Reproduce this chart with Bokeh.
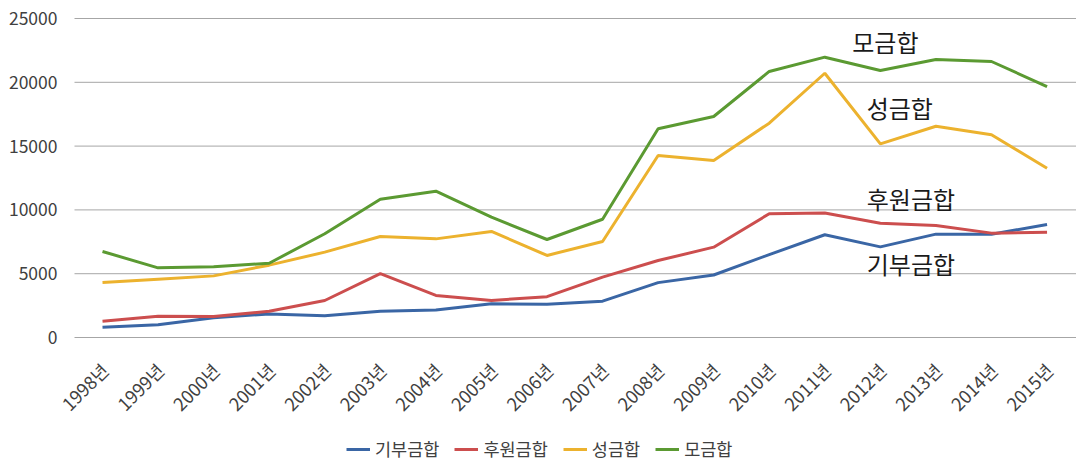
import math
from bokeh.plotting import figure
from bokeh.models import Range1d, Legend, LegendItem, Label, ColumnDataSource
from bokeh.core.properties import value
from bokeh.embed import file_html
from bokeh.resources import INLINE

years = ["1998년", "1999년", "2000년", "2001년", "2002년", "2003년", "2004년", "2005년", "2006년",
         "2007년", "2008년", "2009년", "2010년", "2011년", "2012년", "2013년", "2014년", "2015년"]
donation = [800, 1000, 1550, 1850, 1700, 2050, 2150, 2640, 2600, 2850, 4300, 4900, 6500, 8050, 7100, 8100, 8100, 8850]
sponsor = [1280, 1670, 1650, 2060, 2900, 5000, 3300, 2900, 3200, 4730, 6030, 7080, 9700, 9750, 8950, 8780, 8180, 8250]
relief = [4310, 4570, 4830, 5670, 6690, 7920, 7730, 8310, 6430, 7520, 14260, 13870, 16800, 20710, 15180, 16560, 15890, 13270]
fundraise = [6740, 5460, 5540, 5820, 8130, 10840, 11470, 9430, 7680, 9270, 16360, 17320, 20850, 21970, 20920, 21790, 21630, 19670]
series_names = ["기부금합", "후원금합", "성금합", "모금합"]
y_ticks = [0, 5000, 10000, 15000, 20000, 25000]
y_tick_labels = ["0", "5000", "10000", "15000", "20000", "25000"]

FONT = "Noto Sans CJK KR"
colors = ["#3a66a5", "#cc4e4e", "#ecb22e", "#5b9a32"]

xs = list(range(len(years)))

# The frame covers the whole canvas so that no text is clipped; the plotting
# area proper runs from x = PLOT_X0 to the right edge and from 0 to 25000.
PLOT_X0 = -0.504
PLOT_X1 = 17.53

p = figure(width=1076, height=462, output_backend="svg", toolbar_location=None,
           x_range=Range1d(-1.836, PLOT_X1), y_range=Range1d(-9796, 26411),
           min_border_left=0, min_border_right=0, min_border_top=0, min_border_bottom=0)
p.outline_line_color = None
p.background_fill_color = "white"
p.border_fill_color = "white"
p.xaxis.visible = False
p.yaxis.visible = False
p.xgrid.grid_line_color = None
p.ygrid.grid_line_color = None

# horizontal gridlines at the value ticks
p.segment(x0=[PLOT_X0] * len(y_ticks), x1=[PLOT_X1] * len(y_ticks), y0=y_ticks, y1=y_ticks,
          line_color="#a6a6a6", line_width=1)

# value-axis labels
ysrc = ColumnDataSource(dict(x=[PLOT_X0] * len(y_ticks), y=y_ticks, text=y_tick_labels))
p.text(x="x", y="y", text="text", source=ysrc, text_align="right", text_baseline="middle",
       x_offset=-17, text_font=value(FONT), text_font_size="17.5px", text_color="#404040")

# category labels (rotated 45°) anchored under each category at y = 0
lab_src = ColumnDataSource(dict(x=xs, y=[0] * len(xs), text=years))
p.text(x="x", y="y", text="text", source=lab_src, angle=math.pi / 4,
       text_align="right", text_baseline="middle", x_offset=2, y_offset=29,
       text_font=value(FONT), text_font_size="18px", text_color="#404040")

items = []
for name, vals, c in zip(series_names, [donation, sponsor, relief, fundraise], colors):
    r = p.line(xs, vals, line_color=c, line_width=3)
    items.append(LegendItem(label=name, renderers=[r]))

legend = Legend(items=items, orientation="horizontal", location=(346, 1),
                label_text_font=FONT, label_text_font_size="17.5px", label_text_color="#404040",
                glyph_width=24, glyph_height=16, label_standoff=5, spacing=15,
                border_line_color=None, background_fill_alpha=0, padding=2, margin=0)
p.add_layout(legend)

anno = [("모금합", 14.09, 23200), ("성금합", 14.35, 18025), ("후원금합", 14.55, 10894), ("기부금합", 14.55, 5800)]
for t, ax, ay in anno:
    p.add_layout(Label(x=ax, y=ay, text=t, text_align="center", text_baseline="middle",
                       text_font=FONT, text_font_size="24px", text_color="#1a1a1a"))

open("out.html", "w").write(file_html(p, INLINE))
